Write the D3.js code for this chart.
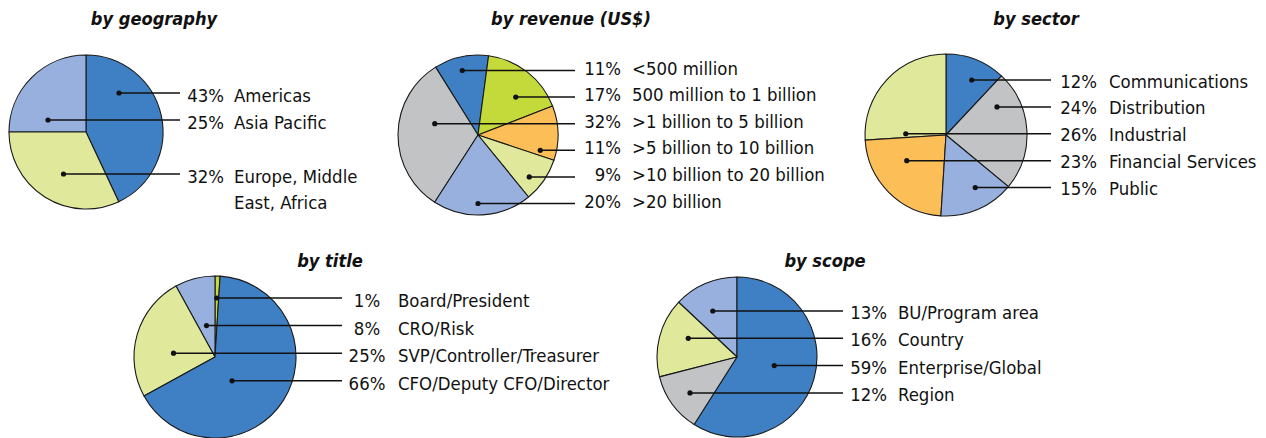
<!DOCTYPE html>
<html>
<head>
<meta charset="utf-8">
<script src="https://cdnjs.cloudflare.com/ajax/libs/d3/7.8.5/d3.min.js"></script>
<style>
  body { margin: 0; background: #fff; }
</style>
</head>
<body>
<svg></svg>
<script>
// DATA (label order as listed next to each pie)

let geoCats = ["Americas", "Asia Pacific", "Europe, Middle\nEast, Africa"];
let geoVals = [43, 25, 32];
let geoSlices = ["Americas", "Europe, Middle\nEast, Africa", "Asia Pacific"];   // clockwise from top

let revCats = ["<500 million", "500 million to 1 billion", ">1 billion to 5 billion", ">5 billion to 10 billion", ">10 billion to 20 billion", ">20 billion"];
let revVals = [11, 17, 32, 11, 9, 20];
let revSlices = ["<500 million", "500 million to 1 billion", ">5 billion to 10 billion", ">10 billion to 20 billion", ">20 billion", ">1 billion to 5 billion"];

let secCats = ["Communications", "Distribution", "Industrial", "Financial Services", "Public"];
let secVals = [12, 24, 26, 23, 15];
let secSlices = ["Communications", "Distribution", "Public", "Financial Services", "Industrial"];

let titCats = ["Board/President", "CRO/Risk", "SVP/Controller/Treasurer", "CFO/Deputy CFO/Director"];
let titVals = [1, 8, 25, 66];
let titSlices = ["Board/President", "CFO/Deputy CFO/Director", "SVP/Controller/Treasurer", "CRO/Risk"];

let scoCats = ["BU/Program area", "Country", "Enterprise/Global", "Region"];
let scoVals = [13, 16, 59, 12];
let scoSlices = ["Enterprise/Global", "Region", "Country", "BU/Program area"];

// COLOURS

let blue = "#3f80c4", ltBlue = "#97b0dd", ltGreen = "#dfe89b", green = "#c4d93a", orange = "#fcbe57", grey = "#c2c3c5";

let geoColors = [blue, ltBlue, ltGreen];
let revColors = [blue, green, grey, orange, ltGreen, ltBlue];
let secColors = [blue, grey, ltGreen, orange, ltBlue];
let titColors = [green, ltBlue, ltGreen, blue];
let scoColors = [ltBlue, ltGreen, blue, grey];

// LAYOUT

let charts = [
  {title: "by geography", tx: 154, ty: 25, cats: geoCats, vals: geoVals, order: geoSlices, colors: geoColors,
   cx: 86, cy: 132, r: 77, start: 0, lineEnd: 180, pctX: 224, pctAnchor: "end", catX: 234,
   y0: 93, step: 27, rows: [0, 1, 3], base: 8.5},
  {title: "by revenue (US$)", tx: 571, ty: 25, cats: revCats, vals: revVals, order: revSlices, colors: revColors,
   cx: 478, cy: 135, r: 80, start: -32, lineEnd: 575, pctX: 621, pctAnchor: "end", catX: 632,
   y0: 70.5, step: 26.6, rows: [0, 1, 2, 3, 4, 5], base: 4},
  {title: "by sector", tx: 1036, ty: 25, cats: secCats, vals: secVals, order: secSlices, colors: secColors,
   cx: 946, cy: 135, r: 81, start: 0, lineEnd: 1051, pctX: 1097, pctAnchor: "end", catX: 1109,
   y0: 80, step: 26.9, rows: [0, 1, 2, 3, 4], base: 7.5},
  {title: "by title", tx: 330, ty: 267, cats: titCats, vals: titVals, order: titSlices, colors: titColors,
   cx: 215, cy: 357, r: 81, start: 0, lineEnd: 342, pctX: 367, pctAnchor: "middle", catX: 398,
   y0: 298, step: 27.6, rows: [0, 1, 2, 3], base: 9},
  {title: "by scope", tx: 825, ty: 267, cats: scoCats, vals: scoVals, order: scoSlices, colors: scoColors,
   cx: 737, cy: 357, r: 80, start: 0, lineEnd: 843, pctX: 887, pctAnchor: "end", catX: 898,
   y0: 311, step: 27.3, rows: [0, 1, 2, 3], base: 8}
];

let svg = d3.select("svg")
  .attr("width", 1266)
  .attr("height", 438);

// FONT SETUP
// prefer a condensed face; size it so the text runs about as wide as in the original
let font = pickFont();
let lblSize = 20 * 77 / textWidth("Americas", font, "normal", "normal", 20);
let ttlSize = 1.1 * 19 * 115 / textWidth("by geography", font, "bold", "italic", 19);

charts.forEach(drawPie);

function drawPie(c){
  let data = c.cats.map((cat, i) => ({cat: cat, val: c.vals[i], color: c.colors[i], row: c.rows[i]}));

  let pie = d3.pie()
    .value(d => d.val)
    .sort((a, b) => c.order.indexOf(a.cat) - c.order.indexOf(b.cat))
    .startAngle(c.start * Math.PI / 180)
    .endAngle(c.start * Math.PI / 180 + 2 * Math.PI);

  let arc = d3.arc().innerRadius(0).outerRadius(c.r);
  let arcs = pie(data);

  let g = svg.append("g").attr("transform", `translate(${c.cx},${c.cy})`);

  g.selectAll(".slice")
    .data(arcs)
    .enter()
    .append("path")
    .attr("class", "slice")
    .attr("d", arc)
    .attr("fill", d => d.data.color)
    .attr("stroke", "#1a1a1a")
    .attr("stroke-width", 1.1)
    .attr("stroke-linejoin", "round");

  styleText(svg.append("text"), "bold", "italic", ttlSize)
    .attr("x", c.tx)
    .attr("y", c.ty)
    .attr("text-anchor", "middle")
    .text(c.title);

  // leader lines + dots
  arcs.forEach(function(a){
    let ly = c.y0 + c.step * a.data.row;
    let dx = chordMid(c.cx, c.cy, c.r, a.startAngle, a.endAngle, ly);

    svg.append("line")
      .attr("x1", dx).attr("y1", ly)
      .attr("x2", c.lineEnd).attr("y2", ly)
      .attr("stroke", "#111")
      .attr("stroke-width", 1.5);

    svg.append("circle")
      .attr("cx", dx).attr("cy", ly)
      .attr("r", 2.6)
      .attr("fill", "#111");

    styleText(svg.append("text"), "normal", "normal", lblSize)
      .attr("x", c.pctX)
      .attr("y", ly + c.base)
      .attr("text-anchor", c.pctAnchor)
      .text(a.data.val + "%");

    let t = styleText(svg.append("text"), "normal", "normal", lblSize)
      .attr("x", c.catX)
      .attr("y", ly + c.base);
    a.data.cat.split("\n").forEach(function(s, i){
      t.append("tspan")
        .attr("x", c.catX)
        .attr("dy", i == 0 ? 0 : 26)
        .text(s);
    });
  });
}

// HELPER FUNCTIONS

function styleText(sel, weight, style, size){
  return sel
    .style("font-family", font.family)
    .style("font-stretch", font.stretch)
    .style("font-weight", weight)
    .style("font-style", style)
    .style("font-size", size + "px")
    .attr("fill", "#111");
}

function textWidth(str, f, weight, style, size){
  let t = svg.append("text")
    .style("font-family", f.family)
    .style("font-stretch", f.stretch)
    .style("font-weight", weight)
    .style("font-style", style)
    .style("font-size", size + "px")
    .text(str);
  let w = t.node().getComputedTextLength();
  t.remove();
  return w;
}

function pickFont(){
  let cond = {family: '"Noto Sans", sans-serif', stretch: "condensed"};
  let norm = {family: '"Noto Sans", sans-serif', stretch: "normal"};
  if (textWidth("Americas", cond, "normal", "normal", 20) < 0.95 * textWidth("Americas", norm, "normal", "normal", 20))
    return cond;
  return {family: '"DejaVu Sans Condensed", sans-serif', stretch: "normal"};
}

// middle of the horizontal chord at y that lies inside the slice
function chordMid(cx, cy, r, a0, a1, y){
  let dy = y - cy;
  let lo = Infinity, hi = -Infinity;
  for (let x = cx - r; x <= cx + r; x += 0.5){
    let dx = x - cx;
    if (dx * dx + dy * dy > r * r) continue;
    let a = Math.atan2(dx, -dy);
    while (a < a0) a += 2 * Math.PI;
    while (a >= a0 + 2 * Math.PI) a -= 2 * Math.PI;
    if (a <= a1){
      lo = Math.min(lo, x);
      hi = Math.max(hi, x);
    }
  }
  if (lo == Infinity) return cx;
  return (lo + hi) / 2;
}
</script>
</body>
</html>
